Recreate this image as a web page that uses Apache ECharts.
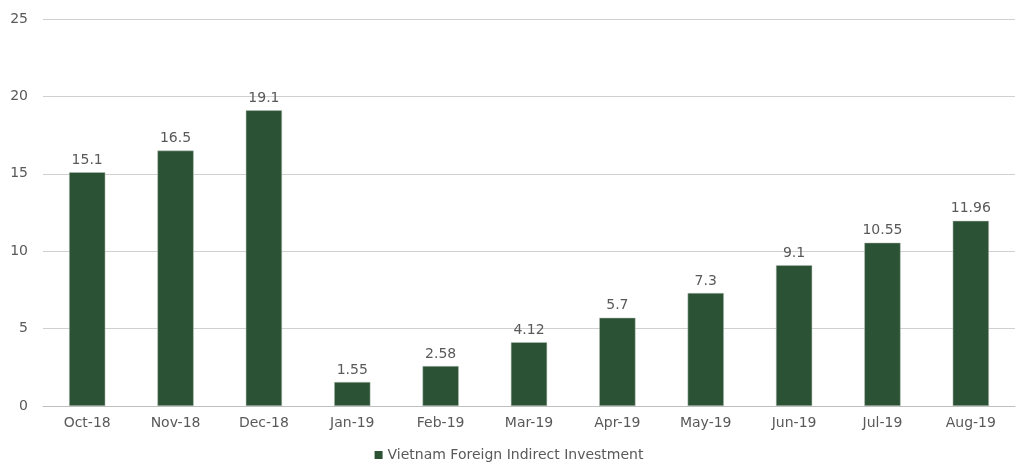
<!DOCTYPE html>
<html><head><meta charset="utf-8">
<script src="https://cdn.jsdelivr.net/npm/echarts@6/dist/echarts.min.js"></script>
<style>html,body{margin:0;padding:0;background:#fff}#c{width:1018px;height:462px}</style>
</head><body><div id="c"></div>
<script>
const categories = ['Oct-18','Nov-18','Dec-18','Jan-19','Feb-19','Mar-19','Apr-19','May-19','Jun-19','Jul-19','Aug-19'];
const values = [15.1, 16.5, 19.1, 1.55, 2.58, 4.12, 5.7, 7.3, 9.1, 10.55, 11.96];
const seriesName = 'Vietnam Foreign Indirect Investment';
const font = '"DejaVu Sans", Verdana, sans-serif';
const chart = echarts.init(document.getElementById('c'));
chart.setOption({
  animation: false,
  grid: {left: 43, right: 3, top: 19, bottom: 56, containLabel: false},
  legend: {
    top: 443, left: 'center', itemWidth: 8, itemHeight: 8, icon: 'rect', itemGap: 4, padding: 5,
    itemStyle: {borderWidth: 0},
    textStyle: {color: '#595959', fontSize: 14, fontFamily: font},
    data: [seriesName]
  },
  xAxis: {
    type: 'category', data: categories,
    axisLine: {lineStyle: {color: '#bfbfbf'}}, axisTick: {show: false},
    axisLabel: {color: '#595959', fontSize: 14, fontFamily: font, margin: 10}
  },
  yAxis: {
    type: 'value', min: 0, max: 25, interval: 5,
    axisLine: {show: false}, axisTick: {show: false},
    splitLine: {lineStyle: {color: '#d0d0d0'}},
    axisLabel: {color: '#595959', fontSize: 14, fontFamily: font, margin: 15}
  },
  series: [{
    name: seriesName, type: 'bar', data: values, barWidth: '41%',
    itemStyle: {color: '#2b5234', borderColor: '#b8c2ba', borderWidth: 0.5},
    label: {show: true, position: 'top', color: '#595959', fontSize: 14, fontFamily: font, distance: 5}
  }]
});
</script></body></html>
